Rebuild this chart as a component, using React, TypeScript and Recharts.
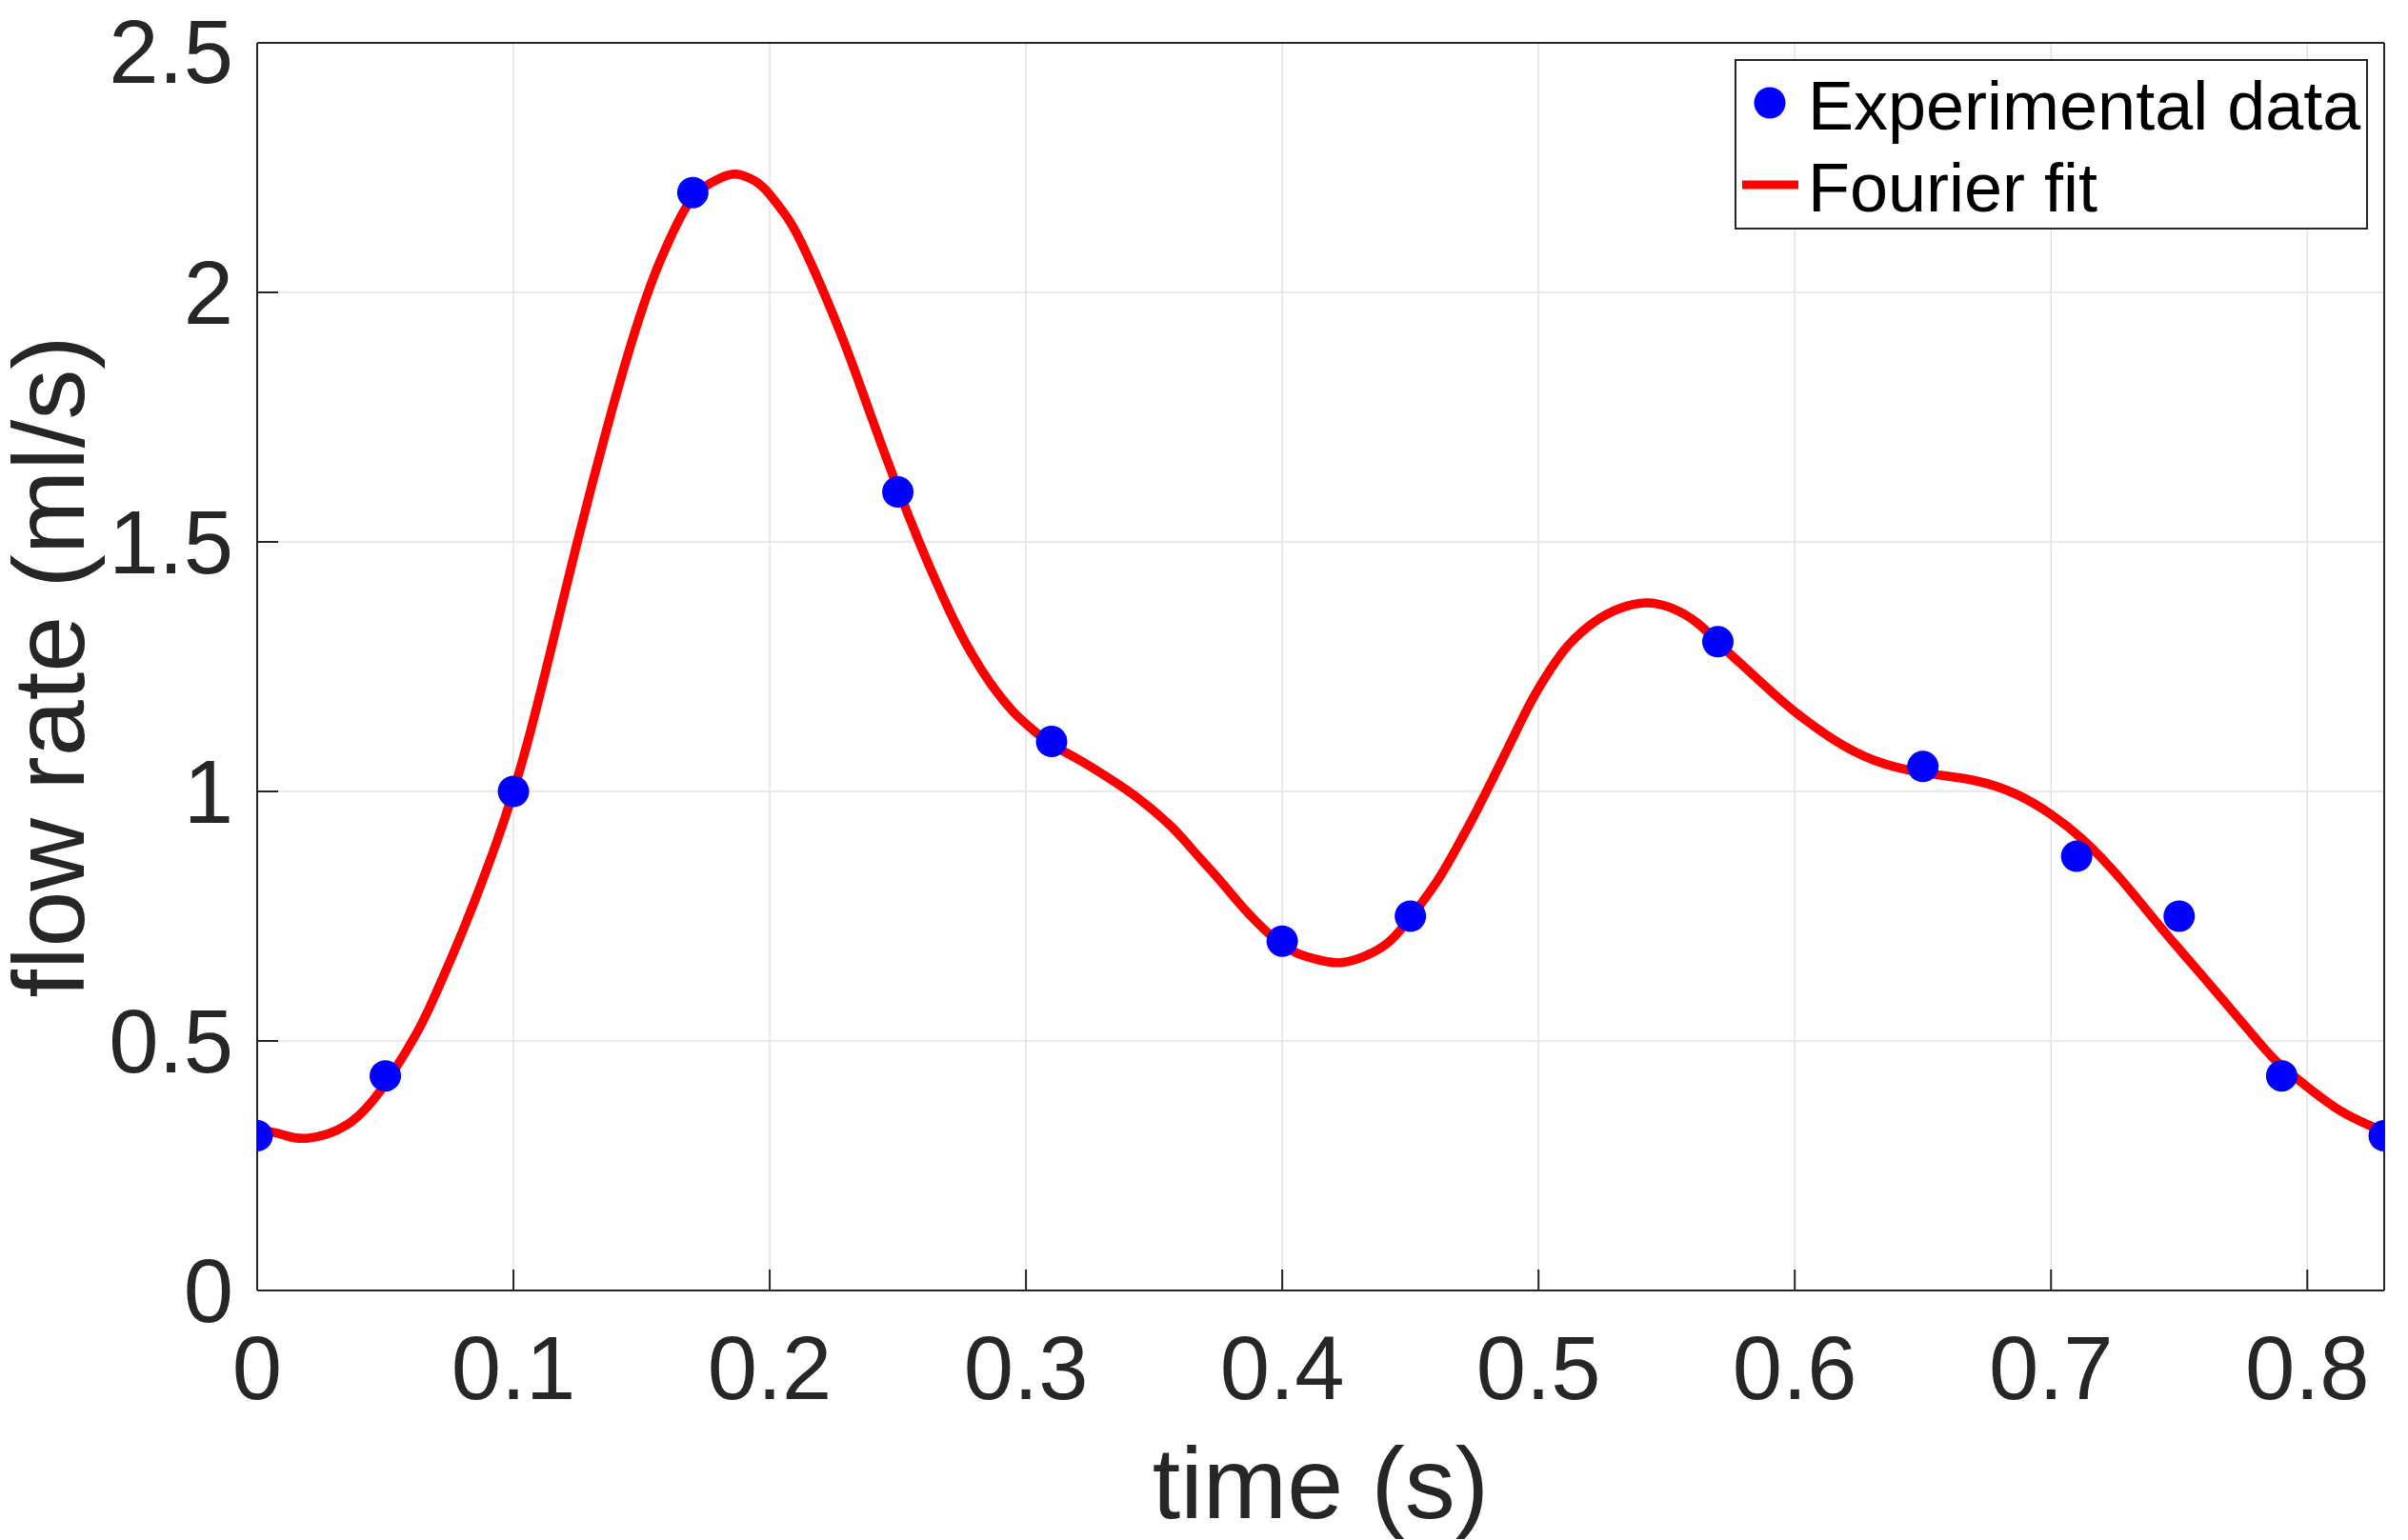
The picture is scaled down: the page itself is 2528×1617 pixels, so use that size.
import React from 'react';
import {
  ComposedChart,
  Line,
  Scatter,
  XAxis,
  YAxis,
  CartesianGrid,
  Legend,
} from 'recharts';

// ---- data ----
const experimentalT = [0, 0.05, 0.1, 0.17, 0.25, 0.31, 0.4, 0.45, 0.57, 0.65, 0.71, 0.75, 0.79, 0.83];
const experimentalQ = [0.31, 0.43, 1.0, 2.2, 1.6, 1.1, 0.7, 0.75, 1.3, 1.05, 0.87, 0.75, 0.43, 0.31];

const fitT = [
  0, 0.01, 0.0193, 0.035, 0.0494, 0.0616, 0.0684, 0.0808, 0.0932, 0.1, 0.1056, 0.1118, 0.118,
  0.1242, 0.1304, 0.1366, 0.1428, 0.149, 0.1551, 0.1613, 0.17, 0.1799, 0.1861, 0.1925, 0.1985,
  0.2047, 0.2123, 0.2275, 0.239, 0.2498, 0.2579, 0.2641, 0.2703, 0.2765, 0.2827, 0.2888, 0.295,
  0.3012, 0.3099, 0.3198, 0.3322, 0.3446, 0.357, 0.3669, 0.376, 0.3851, 0.4, 0.4117, 0.423,
  0.4352, 0.4426, 0.45, 0.46, 0.4674, 0.4748, 0.4823, 0.4897, 0.4971, 0.5046, 0.512, 0.5219,
  0.5318, 0.5418, 0.5517, 0.5616, 0.5696, 0.5789, 0.5913, 0.6, 0.6148, 0.6312, 0.6495, 0.67,
  0.6866, 0.7, 0.7125, 0.7272, 0.7439, 0.7623, 0.7807, 0.7894, 0.8, 0.8139, 0.8296,
];
const fitQ = [
  0.324, 0.312, 0.305, 0.332, 0.41, 0.51, 0.58, 0.728, 0.895, 1.0, 1.1, 1.225, 1.355,
  1.485, 1.61, 1.73, 1.843, 1.947, 2.036, 2.11, 2.19, 2.227, 2.237, 2.228, 2.205,
  2.165, 2.1, 1.92, 1.76, 1.61, 1.505, 1.43, 1.36, 1.297, 1.243, 1.198, 1.16,
  1.13, 1.095, 1.066, 1.027, 0.983, 0.928, 0.872, 0.82, 0.765, 0.693, 0.666, 0.657,
  0.677, 0.703, 0.747, 0.817, 0.881, 0.951, 1.027, 1.104, 1.18, 1.244, 1.295, 1.34,
  1.367, 1.378, 1.368, 1.339, 1.301, 1.256, 1.198, 1.16, 1.105, 1.062, 1.038, 1.022,
  0.994, 0.954, 0.903, 0.824, 0.721, 0.611, 0.5, 0.452, 0.408, 0.357, 0.319,
];

const xTicks = [0, 0.1, 0.2, 0.3, 0.4, 0.5, 0.6, 0.7, 0.8];
const yTicks = [0, 0.5, 1, 1.5, 2, 2.5];
const xDomain: [number, number] = [0, 0.83];
const yDomain: [number, number] = [0, 2.5];

const seriesNames = ['Experimental data', 'Fourier fit'];
const xLabel = 'time (s)';
const yLabel = 'flow rate (ml/s)';

const experimentalData = experimentalT.map((t, i) => ({ t, v: experimentalQ[i] }));
const fitData = fitT.map((t, i) => ({ t, v: fitQ[i] }));

// ---- styles ----
const FONT = "'Liberation Sans', Arial, Helvetica, sans-serif";
const AXIS_COLOR = '#262626';
const tickStyle = { fontSize: 94, fill: AXIS_COLOR, fontFamily: FONT };
const axisLineStyle = { stroke: AXIS_COLOR, strokeWidth: 2 };
const tickLineStyle = { stroke: AXIS_COLOR, strokeWidth: 2 };

const Marker = (props: any) => {
  const { cx, cy } = props;
  if (cx == null || cy == null) return null;
  return <circle cx={cx} cy={cy} r={16.5} fill="#0000ff" />;
};

const renderLegend = (props: any) => {
  const payload = props.payload || [];
  return (
    <div
      style={{
        width: 665,
        height: 179,
        boxSizing: 'border-box',
        border: `2px solid ${AXIS_COLOR}`,
        background: '#fff',
      }}
    >
      <svg width={661} height={175} style={{ display: 'block' }}>
        {payload.map((entry: any, i: number) => {
          const rowBase = 72 + i * 86;
          const isLine = entry.type === 'line';
          return (
            <g key={i}>
              {isLine ? (
                <line x1={6} x2={65} y1={rowBase - 28} y2={rowBase - 28} stroke={entry.color} strokeWidth={9} />
              ) : (
                <circle cx={35} cy={rowBase - 28} r={16.5} fill={entry.color} />
              )}
              <text x={75} y={rowBase} fontSize={72} fontFamily={FONT} fill="#000">
                {entry.value}
              </text>
            </g>
          );
        })}
      </svg>
    </div>
  );
};

const YLabelContent = (props: any) => {
  const vb = props.viewBox || {};
  const x = (vb.x || 0) + 88;
  const y = (vb.y || 0) + (vb.height || 0) / 2;
  return (
    <text
      x={x}
      y={y}
      transform={`rotate(-90, ${x}, ${y})`}
      textAnchor="middle"
      fontSize={106}
      fontFamily={FONT}
      fill={AXIS_COLOR}
    >
      {yLabel}
    </text>
  );
};

const XLabelContent = (props: any) => {
  const vb = props.viewBox || {};
  const x = (vb.x || 0) + (vb.width || 0) / 2;
  const y = (vb.y || 0) + 239;
  return (
    <text x={x} y={y} textAnchor="middle" fontSize={106} fontFamily={FONT} fill={AXIS_COLOR}>
      {xLabel}
    </text>
  );
};

export default function App() {
  return (
    <div style={{ position: 'absolute', left: 0, top: 0, width: 2528, height: 1617, background: '#fff' }}>
      <ComposedChart
        width={2528}
        height={1617}
        margin={{ top: 44, right: 24, bottom: 0, left: 0 }}
      >
        <CartesianGrid
          stroke="#e2e2e2"
          strokeWidth={1.5}
          horizontalValues={yTicks}
          verticalValues={xTicks}
        />
        <XAxis
          dataKey="t"
          type="number"
          domain={xDomain}
          ticks={xTicks}
          allowDataOverflow
          height={262}
          tick={tickStyle}
          tickSize={-22}
          tickMargin={69}
          axisLine={axisLineStyle}
          tickLine={tickLineStyle}
          label={{ content: <XLabelContent /> }}
        />
        <XAxis
          xAxisId="top"
          orientation="top"
          type="number"
          domain={xDomain}
          ticks={xTicks}
          allowDataOverflow
          height={1}
          tick={false}
          tickSize={-22}
          axisLine={axisLineStyle}
          tickLine={tickLineStyle}
        />
        <YAxis
          type="number"
          domain={yDomain}
          ticks={yTicks}
          allowDataOverflow
          width={270}
          tick={tickStyle}
          tickSize={-22}
          tickMargin={47}
          axisLine={axisLineStyle}
          tickLine={tickLineStyle}
          label={{ content: <YLabelContent /> }}
        />
        <YAxis
          yAxisId="right"
          orientation="right"
          type="number"
          domain={yDomain}
          ticks={yTicks}
          allowDataOverflow
          width={1}
          tick={false}
          tickSize={-22}
          axisLine={axisLineStyle}
          tickLine={tickLineStyle}
        />
        <Scatter
          name={seriesNames[0]}
          data={experimentalData}
          dataKey="v"
          fill="#0000ff"
          shape={<Marker />}
          legendType="circle"
          isAnimationActive={false}
        />
        <Line
          name={seriesNames[1]}
          data={fitData}
          dataKey="v"
          type="natural"
          stroke="#ff0000"
          strokeWidth={9.5}
          strokeLinejoin="round"
          dot={false}
          activeDot={false}
          legendType="line"
          isAnimationActive={false}
        />
        <Legend
          layout="vertical"
          align="center"
          verticalAlign="middle"
          content={renderLegend}
          wrapperStyle={{ position: 'absolute', left: 1821, top: 62, width: 665, height: 179 }}
        />
      </ComposedChart>
    </div>
  );
}
